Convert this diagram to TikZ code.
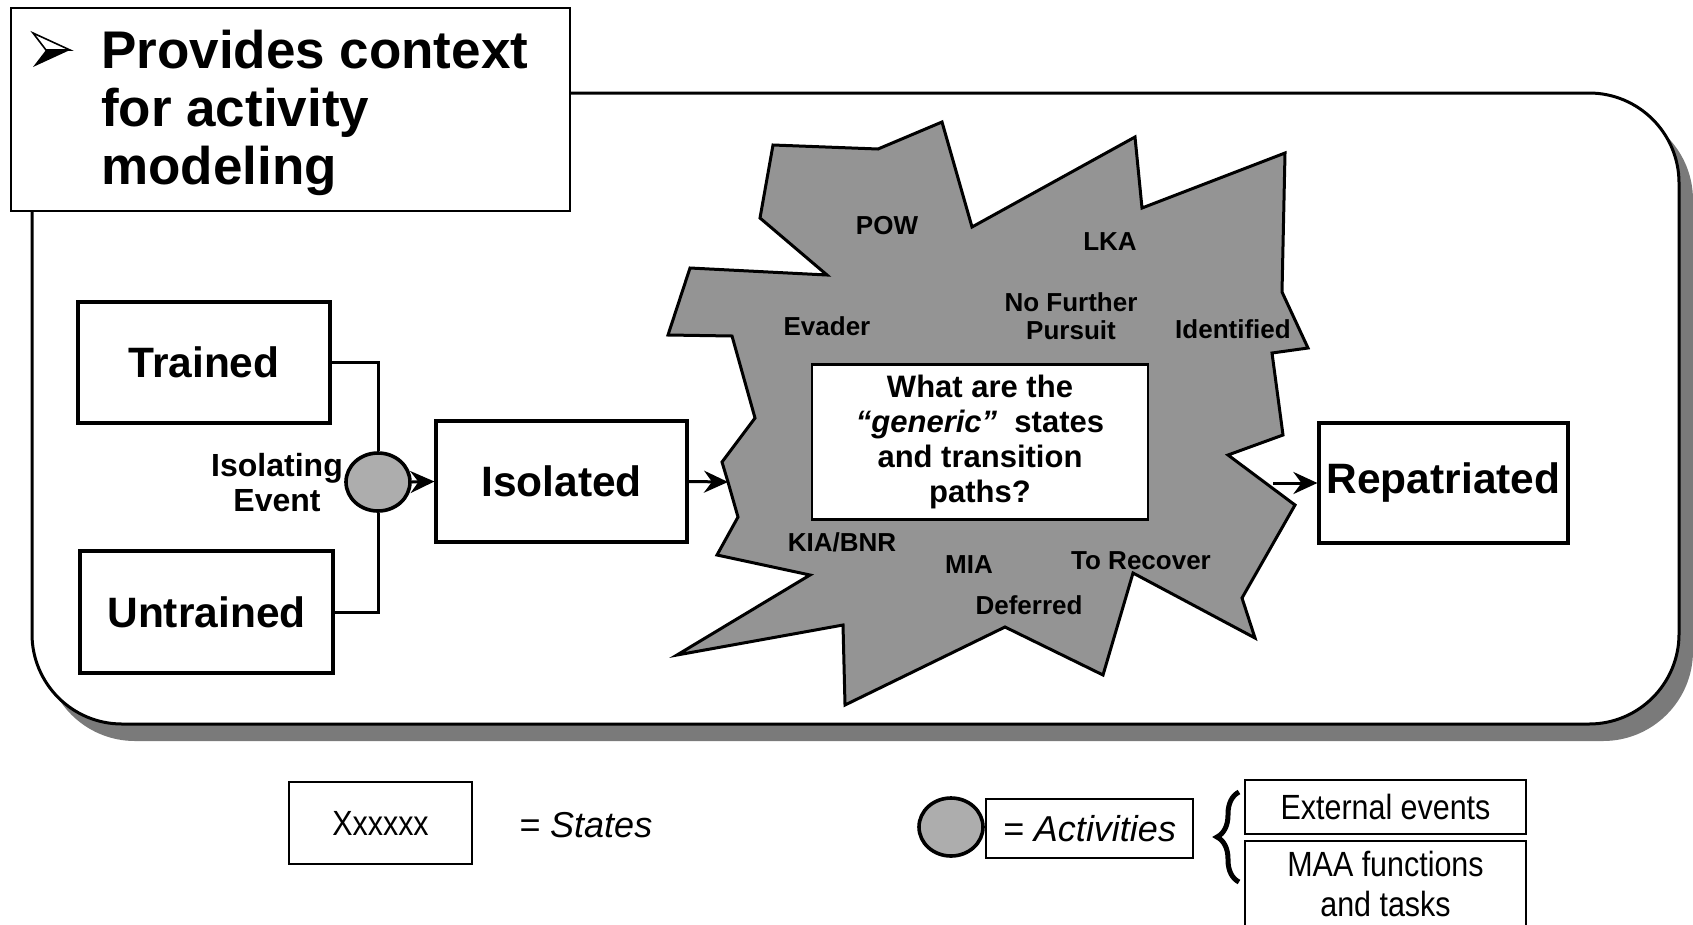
\documentclass[tikz,border=0pt]{standalone}
\usepackage{fontspec}
\setmainfont{Liberation Sans}
\newfontfamily\narrowfont{Liberation Sans}[FakeStretch=0.87]
\usetikzlibrary{arrows.meta,shapes.geometric,decorations.pathreplacing}
\begin{document}
\begin{tikzpicture}[x=1pt,y=-1pt,
  state/.style={draw, line width=3.2pt, fill=white, inner sep=0pt,
    font=\fontsize{42.5}{48}\selectfont\bfseries},
  conn/.style={line width=3pt},
  arr/.style={line width=3pt, -{Stealth[length=24pt,width=22pt,inset=8pt]}},
  activity/.style={ellipse, draw, line width=3.6pt, fill=black!32,
    minimum width=64pt, minimum height=58pt, inner sep=0pt},
  blabel/.style={inner sep=0pt, font=\fontsize{26}{28}\selectfont\bfseries},
  legendtxt/.style={font=\fontsize{35}{40}\selectfont\narrowfont},
  legenditalic/.style={font=\fontsize{36}{40}\selectfont\itshape},
]
\useasboundingbox (0,0) rectangle (1693,924);

% rounded frame with its shadow
\fill[black!52, rounded corners=90pt] (45,110) rectangle (1693,741);
\draw[line width=3pt, fill=white, rounded corners=90pt] (32,93) rectangle (1679,724);

% heading box
\node[draw, line width=2.8pt, fill=white, inner sep=0pt,
      minimum width=559pt, minimum height=203pt] (titlebox) at (290.5,109.5) {};
\draw[line width=1.6pt, fill=white, line join=miter] (33,33) -- (70,50) -- (46,50) -- cycle;
\fill (46,50) -- (70,50) -- (33,67) -- cycle;
\node[anchor=north west, inner sep=0pt, align=left,
      font=\fontsize{53}{58}\selectfont\bfseries] (titletext) at (101,30)
      {Provides context\\for activity\\modeling};

% state boxes
\node[state, minimum width=252pt, minimum height=121pt] (trained) at (204,362.5) {Trained};
\node[state, minimum width=253pt, minimum height=122pt] (untrained) at (206.5,612) {Untrained};
\node[state, minimum width=251pt, minimum height=121pt] (isolated) at (561.5,481.5) {Isolated};
\node[state, minimum width=249pt, minimum height=120pt] (repat) at (1443.5,483) {Repatriated};

% isolating event
\node[activity] (ev) at (378,482) {};
\node[align=center, inner sep=0pt, font=\fontsize{32}{35}\selectfont\bfseries] (evlabel) at (277,483) {Isolating\\Event};
\draw[conn] (trained.east) -| (ev.north);
\draw[conn] (untrained.east) -| (ev.south);
\draw[arr] (ev.east) -- (isolated.west);

% the cloud of intermediate states
\coordinate (bw) at (728,482);
\coordinate (be) at (1273,483);
\draw[line width=3pt, fill=black!42, line join=miter]
  (773,145) -- (878,149) -- (942,122) -- (972,227) -- (1135,137) -- (1142,208)
  -- (1285,153) -- (1282,292) -- (1308,348) -- (1272,353) -- (1283,435)
  -- (1228,455) -- (1295,505) -- (1242,598) -- (1255,638) -- (1133,573)
  -- (1103,675) -- (1005,627) -- (845,705) -- (843,625) -- (677,655)
  -- (810,575) -- (717,555) -- (738,517) -- (bw) -- (722,462) -- (755,418)
  -- (732,336) -- (668,335) -- (690,268) -- (827,275) -- (760,218) -- cycle;

\node[blabel] (pow) at (887,226) {POW};
\node[blabel] (evader) at (827,326) {Evader};
\node[blabel] (lka) at (1110,242) {LKA};
\node[blabel, align=center] (nfp) at (1071,316) {No Further\\Pursuit};
\node[blabel] (ident) at (1233,329) {Identified};
\node[blabel] (kia) at (842,542) {KIA/BNR};
\node[blabel] (mia) at (969,565) {MIA};
\node[blabel] (defer) at (1029,605) {Deferred};
\node[blabel] (torec) at (1141,561) {To Recover};

\node[draw, line width=2.4pt, fill=white, inner sep=0pt, align=center,
      minimum width=336pt, minimum height=155pt,
      font=\fontsize{31}{35}\selectfont\bfseries] (question) at (980,442)
      {What are the\\\textit{“generic”}\ \ states\\and transition\\paths?};

\draw[arr] (isolated.east) -- (bw);
\draw[arr] (be) -- (repat.west);

% legend
\node[draw, line width=2.8pt, inner sep=0pt, minimum width=183pt, minimum height=82pt,
      legendtxt] (lstate) at (380.5,823) {Xxxxxx};
\node[anchor=west, inner sep=0pt, legenditalic] (lstates) at (519,825) {= States};
\node[activity] (lact) at (951,827) {};
\node[draw, line width=2.4pt, inner sep=0pt, minimum width=207pt, minimum height=59pt,
      legenditalic] (lactbox) at (1089.5,828.5) {= Activities};
\draw[line width=5pt, decorate, decoration={brace, amplitude=22pt}]
  (1239,882) -- (1239,792);
\node[draw, line width=2.4pt, inner sep=0pt, minimum width=281pt, minimum height=54pt,
      legendtxt] (ext) at (1385.5,807) {External events};
\node[draw, line width=2.4pt, inner sep=0pt, minimum width=281pt, minimum height=110pt,
      anchor=north] (maa) at (1385.5,840) {};
\node[align=center, inner sep=0pt, legendtxt] (maatext) at (1385.5,884) {MAA functions\\and tasks};
\end{tikzpicture}
\end{document}
